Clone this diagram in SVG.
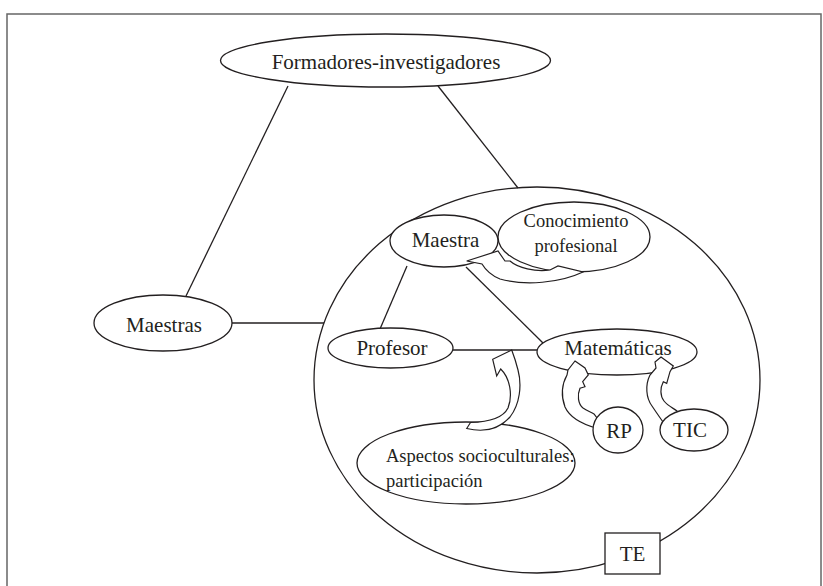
<svg xmlns="http://www.w3.org/2000/svg" width="823" height="586" viewBox="0 0 823 586">
<style>
.sh{fill:#fff;stroke:#231f20;stroke-width:1.3}
.ln{fill:none;stroke:#231f20;stroke-width:1.3}
.ar{fill:#fff;stroke:#231f20;stroke-width:1.2;stroke-linejoin:miter}
text{font-family:'Liberation Serif',serif;fill:#231f20}
.t{font-size:21px}
.s{font-size:18.5px}
.m{text-anchor:middle}
</style>
<rect x="7" y="14" width="814" height="600" fill="none" stroke="#666" stroke-width="1.5"/>
<g id="TE-circle">
<ellipse class="ln" cx="537" cy="380" rx="223" ry="193"/>
</g>
<g id="connectors">
<line class="ln" x1="288" y1="86" x2="186" y2="296"/>
<line class="ln" x1="438" y1="86" x2="518" y2="188"/>
<line class="ln" x1="232" y1="323" x2="324" y2="323"/>
<line class="ln" x1="407" y1="266" x2="380" y2="329"/>
<line class="ln" x1="466" y1="267" x2="543" y2="343"/>
<line class="ln" x1="453" y1="350" x2="537" y2="350"/>
</g>
<g id="Formadores" font-family="Liberation Serif, serif">
<ellipse class="sh" cx="385.5" cy="60.5" rx="165" ry="26.5"/>
<text class="t m" x="386" y="69">Formadores-investigadores</text>
</g>
<g id="Maestras" font-family="Liberation Serif, serif">
<ellipse class="sh" cx="163" cy="323" rx="69" ry="28"/>
<text class="t m" x="164" y="332">Maestras</text>
</g>
<g id="Maestra" font-family="Liberation Serif, serif">
<ellipse class="sh" cx="444" cy="241" rx="54" ry="26"/>
<text class="t m" x="445.5" y="247">Maestra</text>
</g>
<g id="Conocimiento" font-family="Liberation Serif, serif">
<ellipse class="sh" cx="574" cy="237" rx="76" ry="35"/>
<text class="s m" x="576" y="227">Conocimiento</text>
<text class="s m" x="576" y="252">profesional</text>
</g>
<g id="Profesor" font-family="Liberation Serif, serif">
<ellipse class="sh" cx="390.5" cy="348" rx="62.5" ry="20"/>
<text class="t m" x="392" y="355">Profesor</text>
</g>
<g id="Matematicas" font-family="Liberation Serif, serif">
<ellipse class="sh" cx="617" cy="352" rx="80" ry="23"/>
<text class="t m" x="618" y="355">Matemáticas</text>
</g>
<g id="Aspectos" font-family="Liberation Serif, serif">
<ellipse class="sh" cx="466" cy="463" rx="109" ry="41"/>
<text class="s" x="386" y="462">Aspectos socioculturales:</text>
<text class="s" x="386" y="487">participación</text>
</g>
<g id="arrows">
<path class="ar" d="M466.7,261 L498,251 L505,261 L510,261 C518,268 535,272 550,270 L558,266 L583,272 C560,283 525,286 500,279 C490,275 485,269 482,264 Z"/>
<path class="ar" d="M511.7,350 L492.7,359.3 L496.7,376 L500.7,369 C510,378 513,395 508,408 C503,418 490,422 470.5,422.5 L466.7,428.5 C485,433 500,428 510,417 C520,404 522,385 518,370 C516,362 514,356 511.7,350 Z"/>
<path class="ar" d="M575,361 L585,368 L588.3,375 L582.7,381.7 L585,386.7 L580,388.3 C577,395 578,404 583,408 C587,411 591,412 594,414 L600,422 L596,428 C582,424 570,418 565,407 C561,396 562,384 567,375 L568,370 Z"/>
<path class="ar" d="M661,357 L673.3,366 L670,371.7 L666.7,383.3 L663.3,381.7 C660,388 660,396 664,401 C668,406 673,408 677,411 L682,420 L666,426 C660,418 656,412 652,406 C646,398 645,385 650,375 L656,368 L655,362 Z"/>
</g>
<g id="RP" font-family="Liberation Serif, serif">
<ellipse class="sh" cx="618" cy="430" rx="25" ry="23"/>
<text class="t m" x="619" y="438">RP</text>
</g>
<g id="TIC" font-family="Liberation Serif, serif">
<ellipse class="sh" cx="694" cy="430" rx="34" ry="21"/>
<text class="t m" x="690" y="437">TIC</text>
</g>
<g id="TE" font-family="Liberation Serif, serif">
<rect class="sh" x="605" y="533" width="55" height="41"/>
<text class="t m" x="632.5" y="561">TE</text>
</g>
</svg>
